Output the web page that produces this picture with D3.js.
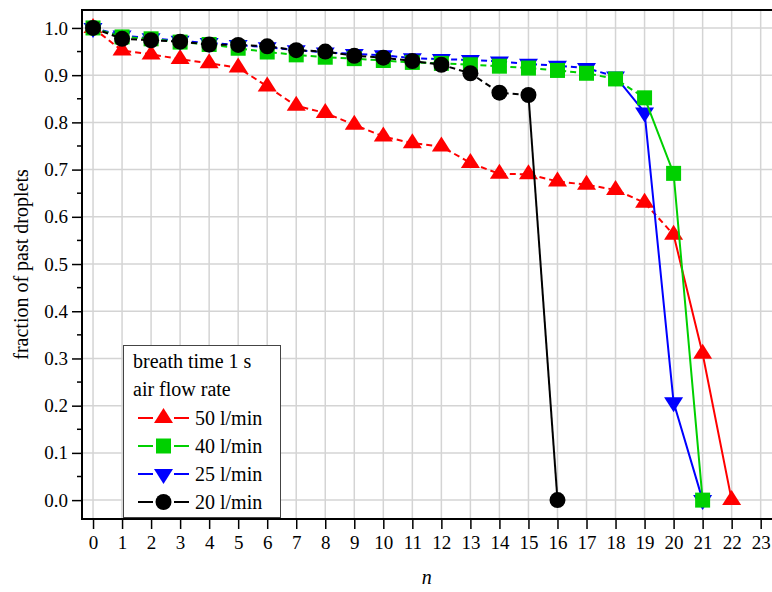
<!DOCTYPE html>
<html>
<head>
<meta charset="utf-8">
<script src="https://cdn.jsdelivr.net/npm/d3@7"></script>
<style>
  body { margin: 0; background: #fff; }
  svg { display: block; }
  svg text { font-family: "Liberation Serif", "DejaVu Serif", serif !important; fill: #000; }
</style>
</head>
<body>
<div id="chart"></div>
<script>
// data
var seriesNames = ['50 l/min', '40 l/min', '25 l/min', '20 l/min']
var red50 = [1.0, 0.952, 0.944, 0.934, 0.925, 0.916, 0.876, 0.835, 0.82, 0.795, 0.77, 0.756,
             0.749, 0.714, 0.691, 0.69, 0.675, 0.668, 0.657, 0.63, 0.562, 0.31, 0.0]
var green40 = [1.0, 0.981, 0.977, 0.97, 0.965, 0.957, 0.949, 0.943, 0.938, 0.935, 0.931, 0.927,
               0.925, 0.922, 0.919, 0.915, 0.91, 0.904, 0.892, 0.852, 0.692, 0.0]
var blue25 = [1.0, 0.984, 0.978, 0.973, 0.968, 0.964, 0.959, 0.953, 0.948, 0.945, 0.942, 0.936,
              0.934, 0.932, 0.929, 0.924, 0.92, 0.915, 0.897, 0.821, 0.207, 0.0]
var black20 = [1.0, 0.977, 0.974, 0.971, 0.965, 0.964, 0.961, 0.953, 0.95, 0.941, 0.937, 0.93,
               0.922, 0.904, 0.863, 0.858, 0.0]
// index where the dashed line turns solid
var solidFrom = [20, 19, 18, 15]
var xTicks = d3.range(0, 24)
var yTicks = d3.range(0, 11).map(d => d / 10)
var yMinor = d3.range(0, 21).map(d => d / 20)

var width = 772, height = 592
var margin = {top: 10, right: 0, bottom: 73, left: 82}

var svg = d3.select("#chart")
  .append("svg")
  .attr("width", width)
  .attr("height", height)

var x = d3.scaleLinear()
  .domain([-0.38, 23.39])
  .range([margin.left, width - margin.right])
var y = d3.scaleLinear()
  .domain([-0.04, 1.038])
  .range([height - margin.bottom, margin.top])

// grid
svg.append("g")
  .attr("stroke", "#d4d4d4")
  .attr("stroke-width", 1.5)
  .call(g => g.selectAll("line.v")
    .data(xTicks)
    .join("line")
      .attr("class", "v")
      .attr("x1", d => x(d)).attr("x2", d => x(d))
      .attr("y1", margin.top).attr("y2", height - margin.bottom))
  .call(g => g.selectAll("line.h")
    .data(yTicks)
    .join("line")
      .attr("class", "h")
      .attr("y1", d => y(d)).attr("y2", d => y(d))
      .attr("x1", margin.left).attr("x2", width - margin.right))

// axes
var xAxis = svg.append("g")
  .attr("transform", `translate(0,${height - margin.bottom})`)
  .call(d3.axisBottom(x).tickValues(xTicks).tickSize(10).tickPadding(7).tickSizeOuter(0))
xAxis.attr("font-family", null)
xAxis.select(".domain").remove()
xAxis.selectAll("line").attr("stroke-width", 1.5)
xAxis.selectAll("text").style("font-size", "19px")

var yAxis = svg.append("g")
  .attr("transform", `translate(${margin.left},0)`)
  .call(d3.axisLeft(y).tickValues(yTicks).tickFormat(d3.format(".1f")).tickSize(10).tickPadding(4))
yAxis.attr("font-family", null)
yAxis.select(".domain").remove()
yAxis.selectAll("line").attr("stroke-width", 1.5)
yAxis.selectAll("text").style("font-size", "19px")

svg.append("g")
  .selectAll("line")
  .data(yMinor.filter(d => Math.round(d * 20) % 2 == 1))
  .join("line")
    .attr("x1", margin.left - 5).attr("x2", margin.left)
    .attr("y1", d => y(d)).attr("y2", d => y(d))
    .attr("stroke", "#000").attr("stroke-width", 1.5)

// frame
svg.append("line")
  .attr("x1", margin.left).attr("x2", width)
  .attr("y1", margin.top).attr("y2", margin.top)
  .attr("stroke", "#000").attr("stroke-width", 2)
svg.append("line")
  .attr("x1", margin.left).attr("x2", width)
  .attr("y1", height - margin.bottom).attr("y2", height - margin.bottom)
  .attr("stroke", "#000").attr("stroke-width", 2)
svg.append("line")
  .attr("x1", margin.left).attr("x2", margin.left)
  .attr("y1", margin.top - 1).attr("y2", height - margin.bottom + 1)
  .attr("stroke", "#000").attr("stroke-width", 2)

// series
var series = [
  {name: seriesNames[0], values: red50, color: "#ff0000", shape: "up", solid: solidFrom[0]},
  {name: seriesNames[2], values: blue25, color: "#0000ff", shape: "down", solid: solidFrom[2]},
  {name: seriesNames[1], values: green40, color: "#00d000", shape: "square", solid: solidFrom[1]},
  {name: seriesNames[3], values: black20, color: "#000000", shape: "circle", solid: solidFrom[3]}
]

function markerPath(shape){
  if (shape == "up") return "M0,-10L9.5,5L-9.5,5Z"
  if (shape == "down") return "M0,10L9.5,-5L-9.5,-5Z"
  if (shape == "square") return "M-7.5,-7.5H7.5V7.5H-7.5Z"
  return null
}

function drawMarker(g, shape, color, cx, cy){
  if (shape == "circle"){
    g.append("circle").attr("cx", cx).attr("cy", cy).attr("r", 8).attr("fill", color)
  }else{
    g.append("path")
      .attr("d", markerPath(shape))
      .attr("transform", `translate(${cx},${cy})`)
      .attr("fill", color)
  }
}

var line = d3.line()
  .x(d => x(d.n))
  .y(d => y(d.v))

series.forEach(function(s){
  var pts = s.values.map((v, i) => ({n: i, v: v}))
  var g = svg.append("g")
  g.append("path")
    .datum(pts.slice(0, s.solid + 1))
    .attr("fill", "none")
    .attr("stroke", s.color)
    .attr("stroke-width", 2)
    .attr("stroke-dasharray", "6,4")
    .attr("d", line)
  g.append("path")
    .datum(pts.slice(s.solid))
    .attr("fill", "none")
    .attr("stroke", s.color)
    .attr("stroke-width", 2)
    .attr("d", line)
  pts.forEach(p => drawMarker(g, s.shape, s.color, x(p.n), y(p.v)))
})

// legend
var legend = svg.append("g")
legend.append("rect")
  .attr("x", 123.5).attr("y", 345.5)
  .attr("width", 157).attr("height", 172)
  .attr("fill", "#fff")
  .attr("stroke", "#444")
  .attr("stroke-width", 1)
legend.append("text")
  .attr("x", 133).attr("y", 368)
  .style("font-size", "20px")
  .text("breath time 1 s")
legend.append("text")
  .attr("x", 133).attr("y", 396)
  .style("font-size", "20px")
  .text("air flow rate")

var legendOrder = [series[0], series[2], series[1], series[3]]
legendOrder.forEach(function(s, i){
  var ly = 418 + i * 28
  legend.append("line")
    .attr("x1", 138).attr("x2", 153).attr("y1", ly).attr("y2", ly)
    .attr("stroke", s.color).attr("stroke-width", 2)
  legend.append("line")
    .attr("x1", 174).attr("x2", 189).attr("y1", ly).attr("y2", ly)
    .attr("stroke", s.color).attr("stroke-width", 2)
  drawMarker(legend, s.shape, s.color, 163.5, ly)
  legend.append("text")
    .attr("x", 195).attr("y", ly + 7)
    .style("font-size", "20px")
    .text(s.name)
})

// axis titles
svg.append("text")
  .attr("transform", "rotate(-90)")
  .attr("x", -(margin.top + height - margin.bottom) / 2)
  .attr("y", 28)
  .attr("text-anchor", "middle")
  .style("font-size", "20px")
  .text("fraction of past droplets")

svg.append("text")
  .attr("x", x(11.5))
  .attr("y", 584)
  .attr("text-anchor", "middle")
  .style("font-size", "20px")
  .style("font-style", "italic")
  .text("n")
</script>
</body>
</html>
